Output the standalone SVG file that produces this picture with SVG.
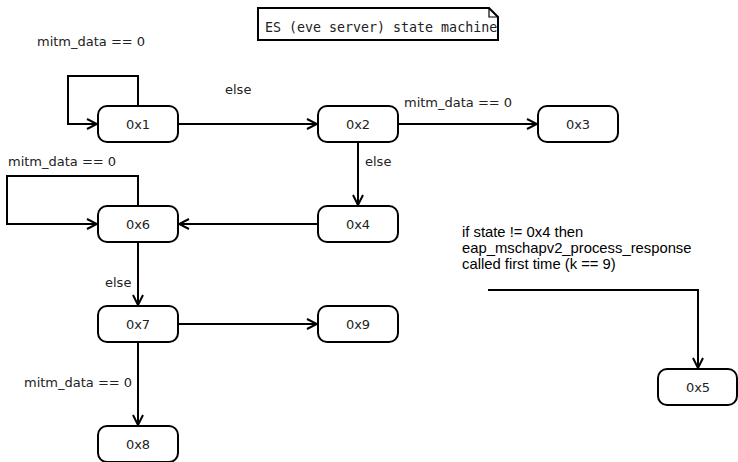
<svg xmlns="http://www.w3.org/2000/svg" width="738" height="462" viewBox="0 0 738 462">
  <style>
    .node rect { fill: #ffffff; stroke: #000000; stroke-width: 2; }
    .node text { font-family: "DejaVu Sans", sans-serif; font-size: 13px; fill: #222222; text-anchor: middle; }
    .edge { fill: none; stroke: #000000; stroke-width: 2; }
    .lbl { font-family: "DejaVu Sans", sans-serif; font-size: 13px; fill: #222222; }
    .note { font-family: "Liberation Sans", Arial, sans-serif; font-size: 14.8px; fill: #000000; }
    .title { font-family: "DejaVu Sans Mono", monospace; font-size: 13.3px; fill: #222222; }
  </style>
  <defs>
    <marker id="arrow" viewBox="0 0 12 12" refX="11" refY="6" markerWidth="12" markerHeight="12" markerUnits="userSpaceOnUse" orient="auto">
      <path d="M1,1 L11,6 L1,11" fill="none" stroke="#000000" stroke-width="2"/>
    </marker>
  </defs>

  <!-- title note with folded corner -->
  <g id="title">
    <path d="M258,8 H489 L498,17 V40 H258 Z" fill="#ffffff" stroke="#000000" stroke-width="2"/>
    <path d="M489,8 V17 H498" fill="none" stroke="#000000" stroke-width="1.2"/>
    <text class="title" x="265" y="32">ES (eve server) state machine</text>
  </g>

  <!-- transitions -->
  <g id="connectors">
    <path class="edge" d="M138,106 V76 H68 V124 H97" marker-end="url(#arrow)"/>
    <path class="edge" d="M178,124 H317" marker-end="url(#arrow)"/>
    <path class="edge" d="M398,124 H537" marker-end="url(#arrow)"/>
    <path class="edge" d="M358,142 V205" marker-end="url(#arrow)"/>
    <path class="edge" d="M318,224 H179" marker-end="url(#arrow)"/>
    <path class="edge" d="M138,206 V176 H7 V224 H97" marker-end="url(#arrow)"/>
    <path class="edge" d="M138,242 V305" marker-end="url(#arrow)"/>
    <path class="edge" d="M178,324 H317" marker-end="url(#arrow)"/>
    <path class="edge" d="M138,342 V425" marker-end="url(#arrow)"/>
    <path class="edge" d="M488,290 H698 V368" marker-end="url(#arrow)"/>

    <text class="lbl" x="37" y="46">mitm_data == 0</text>
    <text class="lbl" x="225" y="94">else</text>
    <text class="lbl" x="404" y="107">mitm_data == 0</text>
    <text class="lbl" x="365" y="166">else</text>
    <text class="lbl" x="8" y="166">mitm_data == 0</text>
    <text class="lbl" x="105" y="287">else</text>
    <text class="lbl" x="24" y="387">mitm_data == 0</text>
    <text class="note" x="462" y="237">if state != 0x4 then</text>
    <text class="note" x="462" y="253">eap_mschapv2_process_response</text>
    <text class="note" x="462" y="269">called first time (k == 9)</text>
  </g>

  <!-- states -->
  <g id="n0x1" class="node"><rect x="98" y="106" width="80" height="36" rx="9"/><text x="138" y="129">0x1</text></g>
  <g id="n0x2" class="node"><rect x="318" y="106" width="80" height="36" rx="9"/><text x="358" y="129">0x2</text></g>
  <g id="n0x3" class="node"><rect x="538" y="106" width="80" height="36" rx="9"/><text x="578" y="129">0x3</text></g>
  <g id="n0x4" class="node"><rect x="318" y="206" width="80" height="36" rx="9"/><text x="358" y="229">0x4</text></g>
  <g id="n0x6" class="node"><rect x="98" y="206" width="80" height="36" rx="9"/><text x="138" y="229">0x6</text></g>
  <g id="n0x7" class="node"><rect x="98" y="306" width="80" height="36" rx="9"/><text x="138" y="329">0x7</text></g>
  <g id="n0x9" class="node"><rect x="318" y="306" width="80" height="36" rx="9"/><text x="358" y="329">0x9</text></g>
  <g id="n0x8" class="node"><rect x="98" y="426" width="80" height="36" rx="9"/><text x="138" y="449">0x8</text></g>
  <g id="n0x5" class="node"><rect x="658" y="369" width="79" height="36" rx="9"/><text x="698" y="392">0x5</text></g>
</svg>
